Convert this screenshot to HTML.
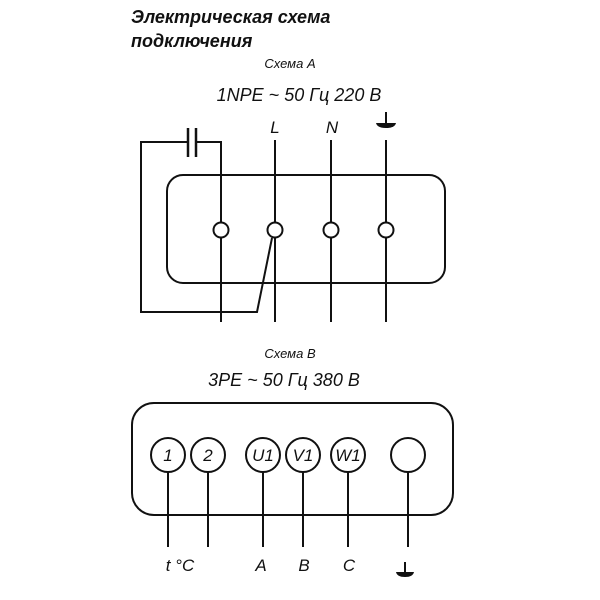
<!DOCTYPE html>
<html><head><style>body{margin:0;background:#fff}</style></head><body>
<svg width="600" height="600" xmlns="http://www.w3.org/2000/svg" style="display:block">
<g stroke="#111" stroke-width="2" fill="none">
<!-- Schema A -->
<rect x="167" y="175" width="278" height="108" rx="16"/>
<polyline points="188,142 141,142 141,312 257,312 272,238"/>
<polyline points="196,142 221,142 221,322"/>
<line x1="188" y1="128" x2="188" y2="157" stroke-width="2.5"/>
<line x1="196" y1="128" x2="196" y2="157" stroke-width="2.5"/>
<line x1="275" y1="140" x2="275" y2="322"/>
<line x1="331" y1="140" x2="331" y2="322"/>
<line x1="386" y1="140" x2="386" y2="322"/>
<line x1="386" y1="112" x2="386" y2="124"/>
<g fill="#fff"><circle cx="221" cy="230" r="7.5"/><circle cx="275" cy="230" r="7.5"/><circle cx="331" cy="230" r="7.5"/><circle cx="386" cy="230" r="7.5"/></g>
<!-- Schema B -->
<rect x="132" y="403" width="321" height="112" rx="22"/>
<g fill="#fff"><circle cx="168" cy="455" r="17"/><circle cx="208" cy="455" r="17"/><circle cx="263" cy="455" r="17"/><circle cx="303" cy="455" r="17"/><circle cx="348" cy="455" r="17"/><circle cx="408" cy="455" r="17"/></g>
<line x1="168" y1="472" x2="168" y2="547"/>
<line x1="208" y1="472" x2="208" y2="547"/>
<line x1="263" y1="472" x2="263" y2="547"/>
<line x1="303" y1="472" x2="303" y2="547"/>
<line x1="348" y1="472" x2="348" y2="547"/>
<line x1="408" y1="472" x2="408" y2="547"/>
<line x1="405" y1="562" x2="405" y2="572"/>
</g>
<path d="M376 123 H396 Q395 128 386 128 Q377 128 376 123 Z" fill="#111"/>
<path d="M396 572 H414 Q413 577 405 577 Q397 577 396 572 Z" fill="#111"/>
<g font-family="Liberation Sans, DejaVu Sans, sans-serif" fill="#111">
<text x="131" y="23" font-size="18" font-weight="bold" font-style="italic">Электрическая  схема</text>
<text x="131" y="47" font-size="18" font-weight="bold" font-style="italic">подключения</text>
<text x="290" y="68" font-size="13" font-style="italic" text-anchor="middle">Схема  А</text>
<text x="299" y="101" font-size="18" font-style="italic" text-anchor="middle">1NPE ~ 50 Гц 220 В</text>
<text x="275" y="133" font-size="17" font-style="italic" text-anchor="middle">L</text>
<text x="332" y="133" font-size="17" font-style="italic" text-anchor="middle">N</text>
<text x="290" y="358" font-size="13" font-style="italic" text-anchor="middle">Схема  В</text>
<text x="284" y="386" font-size="18" font-style="italic" text-anchor="middle">3PE ~ 50 Гц 380 В</text>
<text x="180" y="571" font-size="17" font-style="italic" text-anchor="middle">t °C</text>
<text x="261" y="571" font-size="17" font-style="italic" text-anchor="middle">A</text>
<text x="304" y="571" font-size="17" font-style="italic" text-anchor="middle">B</text>
<text x="349" y="571" font-size="17" font-style="italic" text-anchor="middle">C</text>
<g font-size="17" font-style="italic" text-anchor="middle">
<text x="168" y="461">1</text><text x="208" y="461">2</text><text x="263" y="461">U1</text><text x="303" y="461">V1</text><text x="348" y="461">W1</text>
</g>
</g>
</svg>
</body></html>
